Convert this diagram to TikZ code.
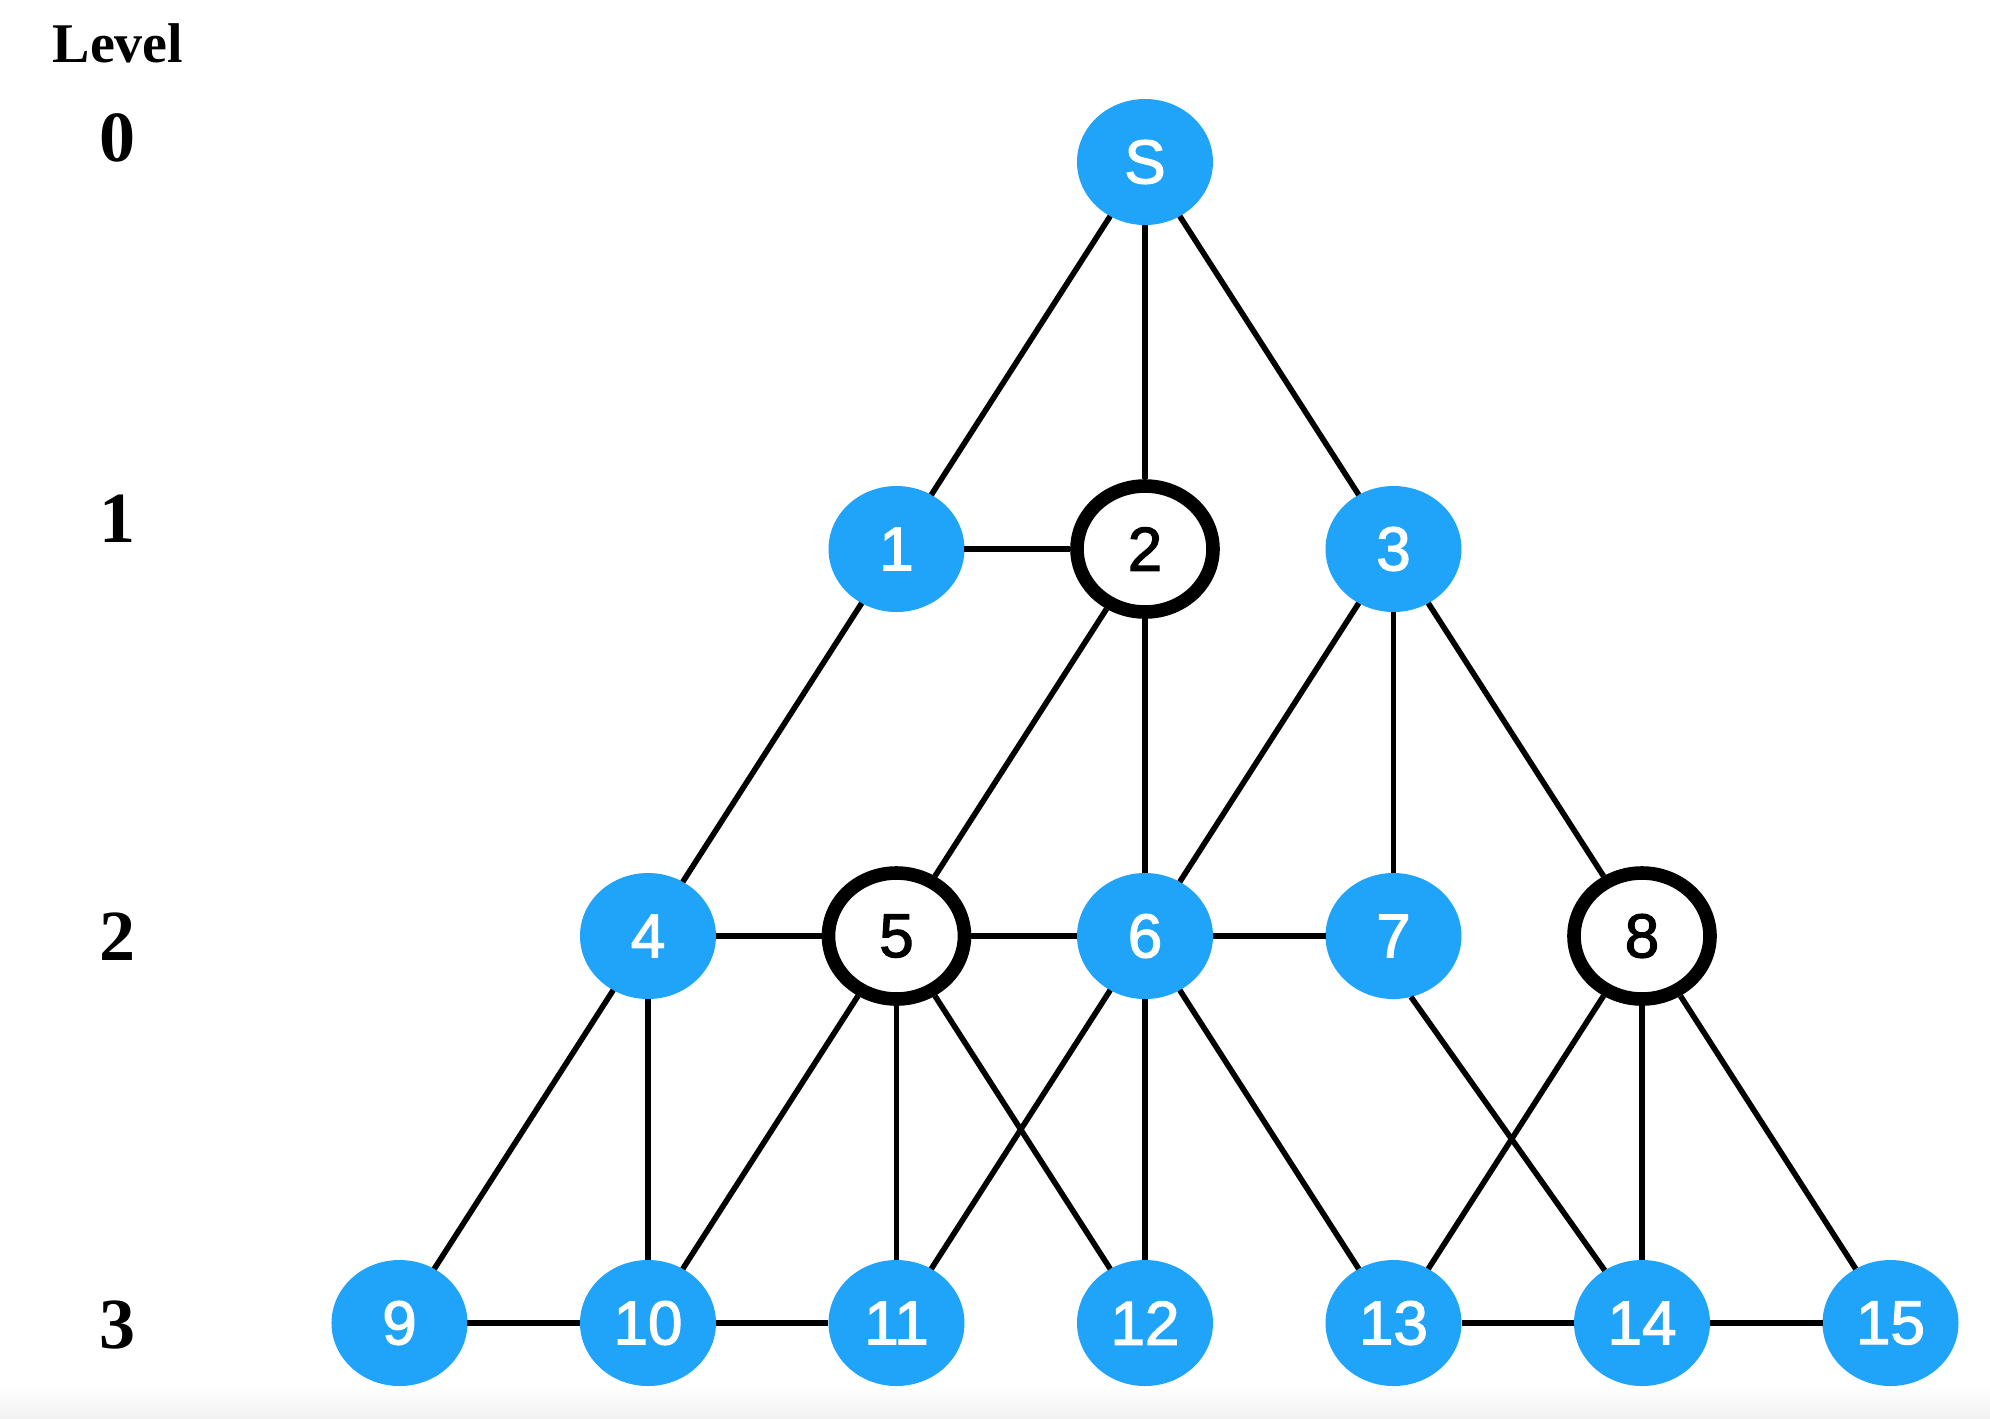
\documentclass[tikz,border=0pt]{standalone}
\usepackage{fontspec}
\setmainfont{Liberation Serif}
\newfontfamily\nodefont[FakeBold=2]{Liberation Sans}
\usetikzlibrary{shapes.geometric}
\definecolor{nodeblue}{RGB}{31,164,250}
\begin{document}
\begin{tikzpicture}[x=62.125pt, y=-96.75pt, line width=1.4pt,
  bluenode/.style={ellipse, minimum width=34pt, minimum height=31.5pt, inner sep=0pt, outer sep=0pt, fill=nodeblue, text=white, font=\nodefont\fontsize{15.5}{18}\selectfont},
  ringnode/.style={ellipse, minimum width=34pt, minimum height=31.5pt, inner sep=0pt, draw, line width=3.4pt, fill=white, font=\nodefont\fontsize{15.5}{18}\selectfont},
  lvl/.style={font=\bfseries\fontsize{18}{20}\selectfont}]
\useasboundingbox (-1.6076,-0.4186) rectangle (6.4004,3.2455);
\shade[top color=white, bottom color=black!5] (-1.6076,3.1602) rectangle (6.4004,3.2455);
% level column
\node[anchor=base, font=\bfseries\fontsize{14}{16}\selectfont] (lvltitle) at (-1.1328,-0.2584){Level};
\node[lvl] (lvl0) at (-1.1328,-0.062){0};
\node[lvl] (lvl1) at (-1.1328,0.9225){1};
\node[lvl] (lvl2) at (-1.1328,2.0026){2};
\node[lvl] (lvl3) at (-1.1328,3.005){3};
% nodes
\node[bluenode] (v0) at (3,0){S};
\node[bluenode] (v1) at (2,1){1};
\node[ringnode] (v2) at (3,1){2};
\node[bluenode] (v3) at (4,1){3};
\node[bluenode] (v4) at (1,2){4};
\node[ringnode] (v5) at (2,2){5};
\node[bluenode] (v6) at (3,2){6};
\node[bluenode] (v7) at (4,2){7};
\node[ringnode] (v8) at (5,2){8};
\node[bluenode] (v9) at (0,3){9};
\node[bluenode] (v10) at (1,3){10};
\node[bluenode] (v11) at (2,3){11};
\node[bluenode] (v12) at (3,3){12};
\node[bluenode] (v13) at (4,3){13};
\node[bluenode] (v14) at (5,3){14};
\node[bluenode] (v15) at (6,3){15};
% edges
\draw[](v0) -- (v1);
\draw[](v0) -- (v2);
\draw[](v0) -- (v3);
\draw[](v1) -- (v2);
\draw[](v1) -- (v4);
\draw[](v2) -- (v5);
\draw[](v2) -- (v6);
\draw[](v3) -- (v6);
\draw[](v3) -- (v7);
\draw[](v3) -- (v8);
\draw[](v4) -- (v5);
\draw[](v5) -- (v6);
\draw[](v6) -- (v7);
\draw[](v4) -- (v9);
\draw[](v4) -- (v10);
\draw[](v5) -- (v10);
\draw[](v5) -- (v11);
\draw[](v5) -- (v12);
\draw[](v6) -- (v11);
\draw[](v6) -- (v12);
\draw[](v6) -- (v13);
\draw[](v7.-74) -- (v14);
\draw[](v8) -- (v13);
\draw[](v8) -- (v14);
\draw[](v8) -- (v15);
\draw[](v9) -- (v10);
\draw[](v10) -- (v11);
\draw[](v13) -- (v14);
\draw[](v14) -- (v15);
\end{tikzpicture}
\end{document}
